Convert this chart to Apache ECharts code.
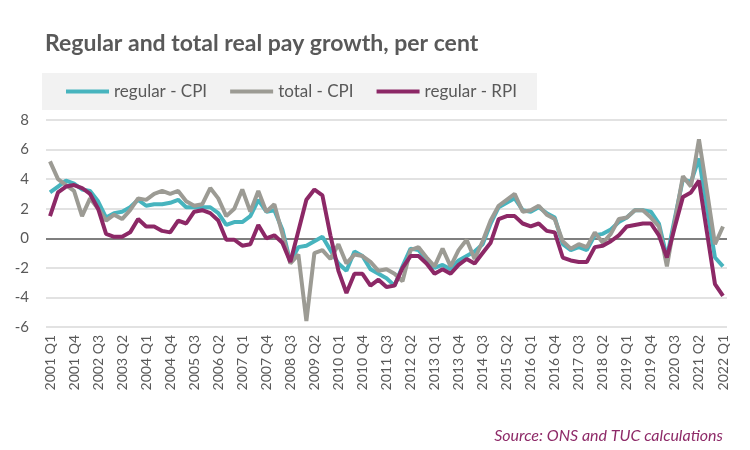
<!DOCTYPE html>
<html>
<head>
<meta charset="utf-8">
<script src="https://cdn.jsdelivr.net/npm/echarts@6/dist/echarts.min.js"></script>
<style>
  html, body { margin: 0; padding: 0; background: #fff; }
  #main { width: 750px; height: 450px; }
</style>
</head>
<body>
<div id="main"></div>
<script>
// quarters 2001 Q1 .. 2022 Q1
var years = [2001, 2002, 2003, 2004, 2005, 2006, 2007, 2008, 2009, 2010, 2011,
             2012, 2013, 2014, 2015, 2016, 2017, 2018, 2019, 2020, 2021, 2022];
var quarters = ['Q1', 'Q2', 'Q3', 'Q4'];
var categories = [];
years.forEach(function (y) {
  quarters.forEach(function (q) {
    if (y === 2022 && q !== 'Q1') return;
    categories.push(y + ' ' + q);
  });
});

var regularCPI = [
  3.1, 3.5, 3.9, 3.7, 3.3, 3.2, 2.5, 1.4, 1.7, 1.8,
  2.1, 2.6, 2.2, 2.3, 2.3, 2.4, 2.6, 2.1, 2.1, 2.1,
  2.1, 1.7, 0.9, 1.1, 1.1, 1.5, 2.6, 1.8, 1.9, 0.6,
  -1.6, -0.6, -0.5, -0.2, 0.1, -0.8, -1.7, -2.2, -0.9, -1.2,
  -2.1, -2.4, -2.7, -3.2, -1.9, -0.7, -0.8, -1.4, -2.0, -1.8,
  -2.1, -1.5, -1.2, -0.9, -0.4, 1.0, 2.1, 2.4, 2.7, 1.9,
  1.8, 2.1, 1.7, 1.4, -0.4, -0.8, -0.6, -0.8, 0.2, 0.3,
  0.6, 1.1, 1.4, 1.9, 1.9, 1.8, 1.0, -1.3, 1.4, 4.0,
  3.8, 5.4, 2.0, -1.3, -1.9
];
var totalCPI = [
  5.2, 4.0, 3.6, 3.2, 1.5, 2.7, 2.0, 1.2, 1.6, 1.3,
  1.9, 2.7, 2.6, 3.0, 3.2, 3.0, 3.2, 2.5, 2.2, 2.3,
  3.4, 2.7, 1.5, 2.0, 3.3, 1.8, 3.2, 1.8, 2.3, 0.3,
  -1.7, -1.1, -5.6, -1.0, -0.8, -1.4, -0.4, -1.7, -1.1, -1.2,
  -1.6, -2.2, -2.1, -2.4, -2.9, -0.8, -0.6, -1.3, -1.9, -0.7,
  -1.9, -0.8, -0.1, -1.4, -0.2, 1.2, 2.2, 2.6, 3.0, 1.8,
  1.9, 2.2, 1.6, 1.3, -0.2, -0.7, -0.4, -0.6, 0.4, -0.3,
  0.3, 1.3, 1.4, 1.9, 1.9, 1.4, 0.8, -1.9, 1.2, 4.2,
  3.5, 6.7, 3.2, -0.4, 0.8
];
var regularRPI = [
  1.5, 3.1, 3.5, 3.6, 3.4, 3.0, 2.0, 0.3, 0.1, 0.1,
  0.4, 1.3, 0.8, 0.8, 0.5, 0.4, 1.2, 1.0, 1.8, 1.9,
  1.7, 1.2, -0.1, -0.1, -0.5, -0.4, 0.9, 0.0, 0.2, -0.3,
  -1.6, 0.5, 2.6, 3.3, 2.9, 0.2, -2.2, -3.7, -2.4, -2.4,
  -3.2, -2.8, -3.3, -3.2, -2.0, -1.2, -1.2, -1.7, -2.4, -2.1,
  -2.4, -1.8, -1.4, -1.7, -1.0, -0.3, 1.3, 1.5, 1.5, 1.0,
  0.8, 1.0, 0.5, 0.4, -1.3, -1.5, -1.6, -1.6, -0.6, -0.5,
  -0.2, 0.2, 0.8, 0.9, 1.0, 1.0, 0.2, -1.3, 0.8, 2.8,
  3.1, 3.9, 0.4, -3.1, -3.9
];

var textColor = '#595959';
var font = 'Lato, "Open Sans", sans-serif';

var chart = echarts.init(document.getElementById('main'));

function lineSeries(name, data, color, extra) {
  var s = {
    name: name,
    type: 'line',
    data: data,
    symbol: 'none',
    lineStyle: { color: color, width: 4 },
    itemStyle: { color: color }
  };
  return Object.assign(s, extra || {});
}

chart.setOption({
  animation: false,
  textStyle: { fontFamily: font },
  title: [{
    text: 'Regular and total real pay growth, per cent',
    left: 40,
    top: 27,
    textStyle: { fontFamily: font, fontSize: 23, fontWeight: 'bold', color: textColor }
  }, {
    text: 'Source: ONS and TUC calculations',
    right: 22,
    top: 423,
    textStyle: { fontFamily: font, fontSize: 16, fontWeight: 'normal', fontStyle: 'italic', color: '#8e2a68' }
  }],
  legend: {
    left: 42,
    top: 73,
    backgroundColor: '#f2f2f2',
    padding: [10, 20, 10, 24],
    icon: 'rect',
    itemWidth: 43,
    itemHeight: 4,
    itemGap: 23,
    textStyle: { fontFamily: font, fontSize: 17, color: textColor },
    data: ['regular - CPI', 'total - CPI', 'regular - RPI']
  },
  grid: { left: 46, right: 23, top: 120, bottom: 123 },
  xAxis: {
    type: 'category',
    data: categories,
    boundaryGap: true,
    axisLine: { show: false, onZero: false },
    axisTick: { show: false },
    axisLabel: {
      interval: 2,
      rotate: 90,
      margin: 8,
      fontSize: 14,
      color: textColor,
      fontFamily: font
    }
  },
  yAxis: {
    type: 'value',
    min: -6,
    max: 8,
    interval: 2,
    axisLine: { show: false },
    axisTick: { show: false },
    axisLabel: { fontSize: 15, color: textColor, margin: 17, fontFamily: font },
    splitLine: { lineStyle: { color: '#d9d9d9', width: 1.5 } }
  },
  series: [
    lineSeries('regular - CPI', regularCPI, '#47b4be', {
      markLine: {
        silent: true,
        symbol: 'none',
        label: { show: false },
        lineStyle: { color: '#7f7f7f', width: 2, type: 'solid' },
        data: [{ yAxis: 0 }],
        z: 1
      }
    }),
    lineSeries('total - CPI', totalCPI, '#9c9b94'),
    lineSeries('regular - RPI', regularRPI, '#8c2866')
  ]
});
</script>
</body>
</html>
